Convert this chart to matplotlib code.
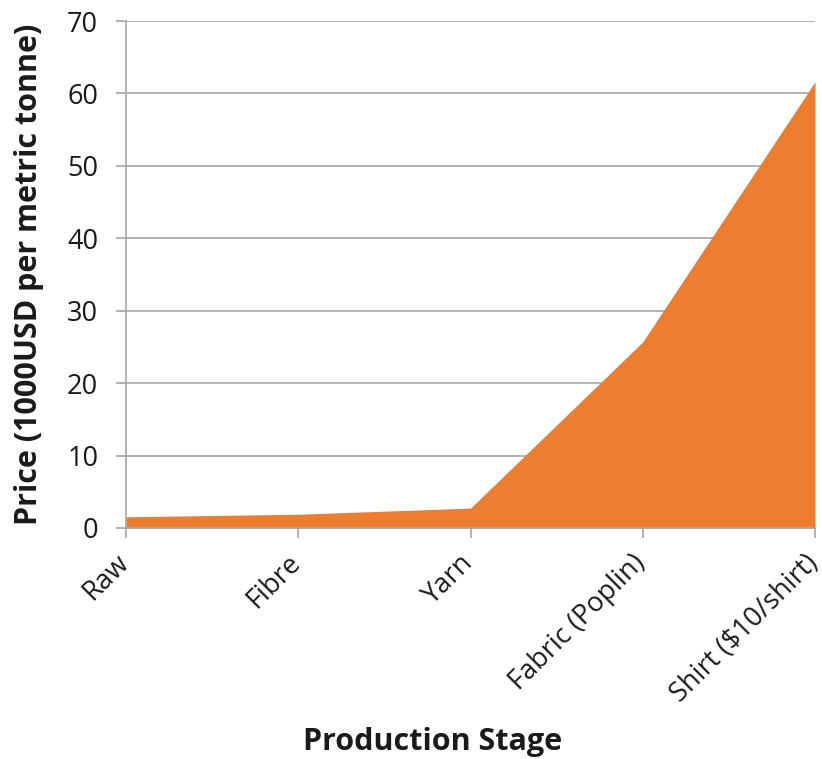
import matplotlib
matplotlib.use("Agg")
import matplotlib.pyplot as plt
import matplotlib.transforms as mtransforms

stages = ["Raw", "Fibre", "Yarn", "Fabric (Poplin)", "Shirt ($10/shirt)"]
prices = [1.55, 1.9, 2.75, 25.7, 61.6]
yticks = [0, 10, 20, 30, 40, 50, 60, 70]

plt.rcParams['font.family'] = ['Open Sans', 'DejaVu Sans']

fig = plt.figure(figsize=(8.22, 7.59), dpi=100)
ax = fig.add_axes([126/822, 1 - 528/759, (815-126)/822, (528-21)/759])

x = list(range(len(stages)))
ax.fill_between(x, 0, prices, color='#ED7D31', linewidth=0, zorder=2)

ax.set_xlim(0, len(stages) - 1)
ax.set_ylim(0, 70)
ax.set_yticks(yticks)
ax.set_xticks(x)
ax.set_xticklabels(stages, rotation=45, ha='right', va='top', rotation_mode='anchor')

grid_c = '#A6A6A6'
txt_c = '#1a1a1a'
ax.yaxis.grid(True, color=grid_c, linewidth=1.2, zorder=1)
ax.set_axisbelow(True)
for s in ['top', 'right']:
    ax.spines[s].set_visible(False)
for s in ['left', 'bottom']:
    ax.spines[s].set_color(grid_c)
    ax.spines[s].set_linewidth(1.2)
ax.spines['bottom'].set_zorder(3)

ax.tick_params(axis='y', length=7, width=1.2, color=grid_c, labelsize=19.5, pad=13, labelcolor=txt_c)
ax.tick_params(axis='x', length=7, width=1.2, color=grid_c, labelsize=19.5, pad=8, labelcolor=txt_c)

offset = mtransforms.ScaledTranslation(-11/100, 0, fig.dpi_scale_trans)
for lbl in ax.get_xticklabels():
    lbl.set_transform(lbl.get_transform() + offset)

ax.set_ylabel("Price (1000USD per metric tonne)", fontsize=22, fontweight='bold', color=txt_c)
ax.yaxis.set_label_coords(-(126-29)/689, 0.5)
ax.set_xlabel("Production Stage", fontsize=22, fontweight='bold', color=txt_c)
ax.xaxis.set_label_coords((433-126)/689, -(742-528)/507)
ax.xaxis.label.set_va('center')
ax.yaxis.label.set_va('center')

fig.savefig("out.png", dpi=100)
